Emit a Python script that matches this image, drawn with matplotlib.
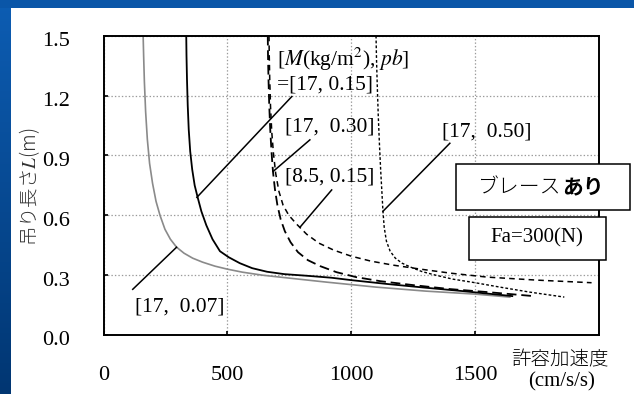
import numpy as np
import matplotlib
matplotlib.use("Agg")
from matplotlib import pyplot as plt
from matplotlib.patches import Rectangle
from matplotlib.colors import LinearSegmentedColormap
from matplotlib.transforms import ScaledTranslation

plt.rcParams['font.family'] = ['Liberation Serif', 'Noto Sans CJK JP']
plt.rcParams['mathtext.fontset'] = 'stix'
plt.rcParams['lines.scale_dashes'] = False

# 曲線データ (許容加速度 cm/s/s, 吊り長さ m)
acc_17_007 = [160, 162, 165, 170, 177, 186, 198, 212, 228, 248, 270, 295, 325, 360, 400,
              450, 500, 560, 640, 750, 900, 1100, 1300, 1500, 1640]
len_17_007 = [1.5, 1.4, 1.27, 1.12, 0.98, 0.86, 0.76, 0.67, 0.60, 0.53, 0.48, 0.44, 0.41, 0.385, 0.365,
              0.345, 0.33, 0.315, 0.30, 0.285, 0.265, 0.24, 0.22, 0.205, 0.19]

acc_17_015 = [334, 335, 337, 340, 344, 350, 358, 368, 380, 395, 415, 440, 470, 505, 550,
              600, 660, 730, 820, 920, 1000, 1150, 1300, 1450, 1650]
len_17_015 = [1.5, 1.4, 1.28, 1.15, 1.03, 0.92, 0.83, 0.75, 0.69, 0.62, 0.55, 0.48, 0.42, 0.39, 0.36,
              0.335, 0.317, 0.305, 0.297, 0.287, 0.275, 0.255, 0.237, 0.22, 0.195]

acc_17_030 = [663, 664, 666, 669, 673, 678, 684, 692, 702, 715, 732, 755, 785, 825, 875,
              940, 1020, 1116, 1250, 1400, 1550, 1735]
len_17_030 = [1.5, 1.4, 1.28, 1.15, 1.03, 0.92, 0.82, 0.73, 0.65, 0.58, 0.52, 0.465, 0.415, 0.375, 0.345,
              0.315, 0.29, 0.27, 0.25, 0.23, 0.215, 0.195]

acc_85_015 = [668, 669, 671, 674, 679, 686, 695, 708, 725, 748, 780, 820, 870, 930, 1000,
              1080, 1170, 1280, 1400, 1550, 1750, 1970]
len_85_015 = [1.5, 1.4, 1.28, 1.15, 1.02, 0.91, 0.81, 0.72, 0.65, 0.6, 0.555, 0.505, 0.46, 0.425, 0.395,
              0.37, 0.35, 0.33, 0.31, 0.29, 0.275, 0.262]

acc_17_050 = [1100, 1102, 1105, 1109, 1114, 1119, 1124, 1128, 1133, 1142, 1157, 1178, 1205, 1240,
              1285, 1340, 1410, 1500, 1600, 1720, 1860]
len_17_050 = [1.5, 1.38, 1.25, 1.1, 0.95, 0.82, 0.71, 0.62, 0.54, 0.47, 0.42, 0.385, 0.36, 0.34,
              0.318, 0.3, 0.28, 0.262, 0.24, 0.215, 0.19]

# 引出線 (始点, 終点)
lead_17_015 = ([760, 377], [1.195, 0.69])
lead_17_030 = ([833, 685], [0.978, 0.82])
lead_85_015 = ([921, 793], [0.727, 0.54])
lead_17_050 = ([1398, 1128], [0.961, 0.62])
lead_17_007 = ([295, 118], [0.44, 0.229])

x_ticks = [0, 500, 1000, 1500]
y_ticks = [0.0, 0.3, 0.6, 0.9, 1.2, 1.5]

fig = plt.figure(figsize=(6.34, 3.94), dpi=100)
fig.patch.set_facecolor('white')

# スライドの青い枠
bg_left = fig.add_axes([0, 0, 10.5 / 634, 1], zorder=-5)
grad = np.linspace(0, 1, 256).reshape(-1, 1)
cmap = LinearSegmentedColormap.from_list('slide', ['#0d5db3', '#013672'])
bg_left.imshow(grad, aspect='auto', cmap=cmap, extent=[0, 1, 0, 1], origin='upper')
bg_left.axis('off')
bg_top = fig.add_axes([0, 1 - 7.5 / 394, 1, 7.5 / 394], zorder=-5)
bg_top.set_facecolor('#0a56a8')
bg_top.set_xticks([]); bg_top.set_yticks([])
for s in bg_top.spines.values():
    s.set_visible(False)

ax = fig.add_axes([103.5 / 634, 59 / 394, 495.5 / 634, 299.3 / 394])

ax.plot(acc_17_007, len_17_007, color='#8a8a8a', lw=1.2)
ax.plot(acc_17_015, len_17_015, color='black', lw=1.3)
ax.plot(acc_17_030, len_17_030, color='black', lw=1.3, dashes=(7, 3.5))
ax.plot(acc_85_015, len_85_015, color='black', lw=1.1, dashes=(4, 3))
ax.plot(acc_17_050, len_17_050, color='black', lw=1.0, dashes=(2, 1.5))

for lx, ly in [lead_17_015, lead_17_030, lead_85_015, lead_17_050, lead_17_007]:
    ax.plot(lx, ly, color='black', lw=1.1)

fs = 15.5
ax.text(700, 1.383, r"[$M$(kg/m$^2$), $pb$]", fontsize=fs, va='center', ha='left')
ax.text(700, 1.253, "=[17, 0.15]", fontsize=fs, va='center', ha='left')
ax.text(732, 1.043, "[17,  0.30]", fontsize=fs, va='center', ha='left')
ax.text(732, 0.792, "[8.5, 0.15]", fontsize=fs, va='center', ha='left')
ax.text(1366, 1.018, "[17,  0.50]", fontsize=fs, va='center', ha='left')
ax.text(127, 0.14, "[17,  0.07]", fontsize=fs, va='center', ha='left')

ax.set_xlim(0, 2000)
ax.set_ylim(0, 1.5)
ax.set_xticks(x_ticks)
ax.set_yticks(y_ticks)
ax.set_yticklabels([f"{v:.1f}" for v in y_ticks])
ax.tick_params(direction='in', length=3, width=1.2, labelsize=16, pad=22)
ax.tick_params(axis='y', pad=24)
shift = ScaledTranslation(0, -2.5 / 72, fig.dpi_scale_trans)
for lab in ax.get_yticklabels():
    lab.set_transform(lab.get_transform() + shift)
ax.grid(True, color='#9a9a9a', lw=0.9, linestyle=(0, (1, 1.5)))
for s in ax.spines.values():
    s.set_linewidth(1.4)

# 注記ボックス
fig.patches.append(Rectangle((456 / 634, 184 / 394), 174 / 634, 46 / 394,
                             transform=fig.transFigure, facecolor='white',
                             edgecolor='black', lw=1.1, zorder=5))
fig.text(520 / 634, 1 - 187 / 394, "ブレース", fontsize=15, family='Noto Sans CJK JP',
         fontweight='light', ha='center', va='center', zorder=6)
fig.text(583 / 634, 1 - 187 / 394, "あり", fontsize=15, family='Noto Sans CJK JP',
         fontweight='bold', ha='center', va='center', zorder=6)
fig.patches.append(Rectangle((469 / 634, 134 / 394), 137 / 634, 43 / 394,
                             transform=fig.transFigure, facecolor='white',
                             edgecolor='black', lw=1.1, zorder=5))
fig.text(537 / 634, 1 - 238 / 394, "Fa=300(N)", fontsize=15, ha='center', va='center', zorder=6)

# 軸ラベル
fig.text(560 / 634, 1 - 360 / 394, "許容加速度", fontsize=14, family='Noto Sans CJK JP',
         fontweight='light', ha='center', va='center')
fig.text(562 / 634, 1 - 382 / 394, "(cm/s/s)", fontsize=15, ha='center', va='center')
fig.text(30 / 634, 1 - 187 / 394, "吊り長さ$L$(m)", fontsize=14, rotation=90,
         family=['Noto Sans CJK JP', 'DejaVu Sans'], fontweight='light',
         ha='center', va='center', color='#333333')

fig.savefig("out.png", dpi=100)
